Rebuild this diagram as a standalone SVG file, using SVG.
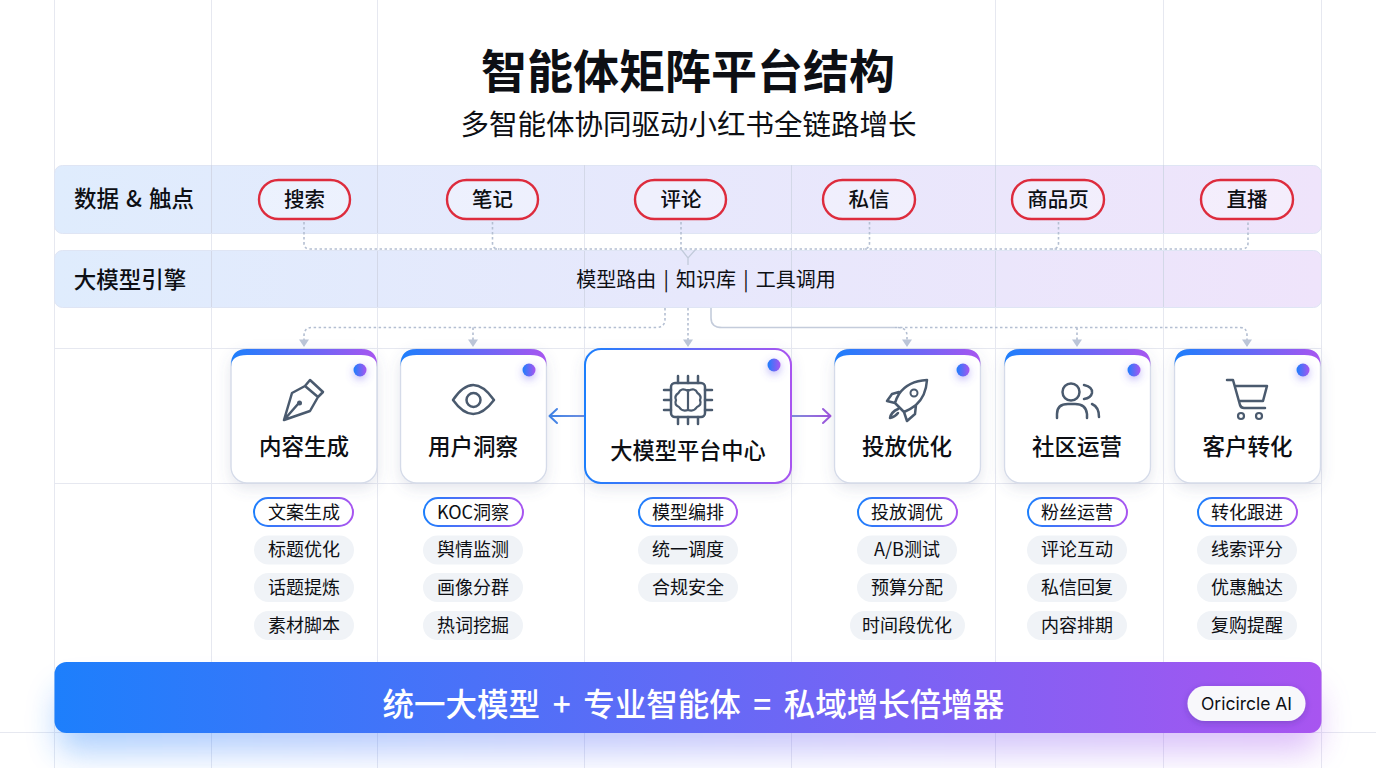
<svg xmlns="http://www.w3.org/2000/svg" width="1376" height="768" viewBox="0 0 1376 768">
<defs>
<linearGradient id="band" x1="0" x2="1" y1="0" y2="0"><stop offset="0" stop-color="#dfecfd"/><stop offset="1" stop-color="#efe4fb"/></linearGradient>
<linearGradient id="bg" gradientUnits="objectBoundingBox" x1="0" x2="1" y1="0" y2="0"><stop offset="0" stop-color="#1d7ffc"/><stop offset="1" stop-color="#a855f0"/></linearGradient>
<linearGradient id="glow" x1="0" x2="1" y1="0" y2="0"><stop offset="0" stop-color="#1d7ffc"/><stop offset="1" stop-color="#a855f0"/></linearGradient>
<linearGradient id="la" gradientUnits="userSpaceOnUse" x1="548" x2="584" y1="0" y2="0"><stop offset="0" stop-color="#3b82e8"/><stop offset="1" stop-color="#6f8fe0"/></linearGradient>
<linearGradient id="ra" gradientUnits="userSpaceOnUse" x1="791" x2="832" y1="0" y2="0"><stop offset="0" stop-color="#7f90dc"/><stop offset="1" stop-color="#a04fdc"/></linearGradient>
<filter id="sh" x="-20%" y="-20%" width="140%" height="150%"><feDropShadow dx="0" dy="5" stdDeviation="7" flood-color="#55658c" flood-opacity=".16"/></filter>
<filter id="dot" x="-150%" y="-150%" width="400%" height="400%"><feDropShadow dx="0" dy="3" stdDeviation="4" flood-color="#6a5cf0" flood-opacity=".45"/></filter>
<filter id="blur" x="-10%" y="-100%" width="120%" height="300%"><feGaussianBlur stdDeviation="16"/></filter>
<filter id="bs" x="-20%" y="-40%" width="140%" height="190%"><feDropShadow dx="0" dy="2" stdDeviation="3" flood-color="#3a2a80" flood-opacity=".3"/></filter>
<marker id="ah" markerWidth="11" markerHeight="9" refX="5.500" refY="8" orient="0" markerUnits="userSpaceOnUse" viewBox="0 0 11 9"><path d="M.5 .5H10.500L5.500 8Z" fill="#bcc6d8"/></marker>
<style>
text{font-family:"Noto Sans CJK SC","Noto Sans",sans-serif;fill:#0d0f14;text-anchor:middle}
.grid{stroke:#e6e8f0;stroke-width:1;fill:none}
.gridin{stroke:#d3d8e8;stroke-width:1;fill:none}
.band{fill:url(#band);stroke:#dfe5f4;stroke-width:1}
.lbl{font-size:22.500px;font-weight:500}
.chip{fill:#fff;stroke:#dd2c3d;stroke-width:2.400;fill-opacity:.35}
.ct{font-size:20.500px;font-weight:500}
.conn{fill:none;stroke:#b4bfd2;stroke-width:1.600;stroke-dasharray:2.500 2.500}
.card{fill:#fff;stroke:#d5dbe9;stroke-width:1.400;filter:url(#sh)}
.top{fill:url(#bg)}
.name{font-size:22.500px;font-weight:500}
.ico{fill:none;stroke:#4a5a6e;stroke-width:2.500;stroke-linecap:round;stroke-linejoin:round}
.pill{fill:#f0f3f7}
.hp{fill:#fff;stroke:url(#bg);stroke-width:2}
.pt{font-size:18px}
.dotc{fill:url(#bg);filter:url(#dot)}
</style>
</defs>
<rect width="1376" height="768" fill="#fff"/>
<g id="grid" class="grid">
<path d="M54.500 0V768M211.500 0V768M377.500 0V768M995.500 0V768M1163.500 0V768M1321.500 0V768M584.500 165V768M791.500 165V768"/>
<path d="M54 348.500H1322M54 483.500H1322M0 732.500H1376"/>
</g>
<g id="title">
<text x="688" y="88" font-size="46" font-weight="700">智能体矩阵平台结构</text>
<text x="688.500" y="134.500" font-size="28.500" font-weight="400">多智能体协同驱动小红书全链路增长</text>
</g>
<g id="band-data">
<rect class="band" x="54.500" y="165.500" width="1267" height="68" rx="8"/>
<path class="gridin" d="M211.500 165V233M377.500 165V233M584.500 165V233M791.500 165V233M995.500 165V233M1163.500 165V233"/>
<text class="lbl" x="134" y="207" style="word-spacing:2px">数据 &amp; 触点</text>
</g>
<g id="band-engine">
<rect class="band" x="54.500" y="250.500" width="1267" height="57" rx="8"/>
<path class="gridin" d="M211.500 251V307M377.500 251V307M584.500 251V307M791.500 251V307M995.500 251V307M1163.500 251V307"/>
<text class="lbl" x="130" y="288">大模型引擎</text>
<text x="706" y="287" font-size="20" font-weight="400" style="word-spacing:2.700px">模型路由 | 知识库 | 工具调用</text>
</g>
<g id="connectors">
<path class="conn" d="M304 222V243Q304 249 310 249H1242Q1248 249 1248 243V222"/>
<path class="conn" d="M492.500 222V243Q492.500 249 499 249M681 222V249M869.500 222V243Q869.500 249 863 249M1058.500 222V243Q1058.500 249 1052 249"/>
<path d="M681 249L688 258L696 249M688 258V265" fill="none" stroke="#c2cbdb" stroke-width="1.300"/>
<path class="conn" d="M665 308V319Q665 327.500 656 327.500H312Q304 327.500 304 336V347" marker-end="url(#ah)"/>
<path class="conn" d="M473 327.500V347" marker-end="url(#ah)"/>
<path class="conn" d="M688 308V347" marker-end="url(#ah)"/>
<path d="M711 308V318Q711 327.500 722 327.500H895" fill="none" stroke="#c4ccdb" stroke-width="1.600"/>
<path class="conn" d="M895 327.500H1240Q1247 327.500 1247 335V347" marker-end="url(#ah)"/>
<path class="conn" d="M898 327.500Q907 327.500 907 336V347" marker-end="url(#ah)"/>
<path class="conn" d="M1077 327.500V347" marker-end="url(#ah)"/>
<path d="M584 416H550M557 409L549.500 416L557 423" fill="none" stroke="url(#la)" stroke-width="2" stroke-linecap="round" stroke-linejoin="round"/>
<path d="M791 416H830M823 409L830.500 416L823 423" fill="none" stroke="url(#ra)" stroke-width="2" stroke-linecap="round" stroke-linejoin="round"/>
</g>
<g id="src-search"><rect class="chip" x="259" y="180" width="91" height="39" rx="19.500"/><text class="ct" x="304.500" y="207">搜索</text></g>
<g id="src-note"><rect class="chip" x="447" y="180" width="91" height="39" rx="19.500"/><text class="ct" x="492.500" y="207">笔记</text></g>
<g id="src-comment"><rect class="chip" x="635" y="180" width="91" height="39" rx="19.500"/><text class="ct" x="681" y="207">评论</text></g>
<g id="src-dm"><rect class="chip" x="823" y="180" width="92" height="39" rx="19.500"/><text class="ct" x="869" y="207">私信</text></g>
<g id="src-product"><rect class="chip" x="1012" y="180" width="92" height="39" rx="19.500"/><text class="ct" x="1058" y="207">商品页</text></g>
<g id="src-live"><rect class="chip" x="1201" y="180" width="92" height="39" rx="19.500"/><text class="ct" x="1247" y="207">直播</text></g>

<g id="card-content">
<rect class="card" x="231" y="349" width="146" height="134" rx="16"/>
<path class="top" d="M231 367V365Q231 349 247 349H361Q377 349 377 365V367Q377 355 361 355H247Q231 355 231 367Z"/>
<circle class="dotc" cx="360" cy="370" r="6.500"/>
<path class="ico" d="M310 380L323 392L318 397L305 386ZM305 386L292 393L284 420L310 411L318 397M284 420L298 404"/><circle cx="299.500" cy="403" r="2.500" fill="#4a5a6e"/>
<text class="name" x="304" y="455">内容生成</text>
</g>
<g id="card-insight">
<rect class="card" x="400.500" y="349" width="146" height="134" rx="16"/>
<path class="top" d="M400.500 367V365Q400.500 349 416.500 349H530.500Q546.500 349 546.500 365V367Q546.500 355 530.500 355H416.500Q400.500 355 400.500 367Z"/>
<circle class="dotc" cx="529" cy="370" r="6.500"/>
<path class="ico" d="M453 400Q473 370 494 400Q473 428 453 400Z"/><circle class="ico" cx="473.500" cy="400" r="7"/>
<text class="name" x="473" y="455">用户洞察</text>
</g>
<g id="card-center">
<rect x="585" y="349" width="206" height="134" rx="16" fill="#fff" stroke="url(#bg)" stroke-width="2" filter="url(#sh)"/>
<circle class="dotc" cx="774" cy="365" r="6.500"/>
<rect class="ico" x="671" y="383" width="34" height="34" rx="4"/>
<path class="ico" d="M678 383V376M688 383V376M698 383V376M678 417V424M688 417V424M698 417V424M671 390H664M671 400H664M671 410H664M705 390H712M705 400H712M705 410H712"/>
<path d="M688 389V411M688 391Q681 387 678.500 393Q674 396 676 400Q674 405 679 407Q682 412 688 410M688 391Q695 387 697.500 393Q702 396 700 400Q702 405 697 407Q694 412 688 410" fill="none" stroke="#4a5a6e" stroke-width="2.200" stroke-linejoin="round"/>
<text x="688" y="459" font-size="22.200" font-weight="500">大模型平台中心</text>
</g>
<g id="card-ads">
<rect class="card" x="834.500" y="349" width="146" height="134" rx="16"/>
<path class="top" d="M834.500 367V365Q834.500 349 850.500 349H964.500Q980.500 349 980.500 365V367Q980.500 355 964.500 355H850.500Q834.500 355 834.500 367Z"/>
<circle class="dotc" cx="963" cy="370" r="6.500"/>
<path class="ico" d="M927 380Q908 381 899 394Q896 399 895 403L904 412Q911 409 916 405Q926 396 927 380ZM899 392L892 394L887 401L895 403M916 405L915 414L907 421L904 412M898 409Q891 412 890 418Q895 417 898 413"/><circle class="ico" cx="914" cy="393" r="3.500" style="stroke-width:2"/>
<text class="name" x="907" y="455">投放优化</text>
</g>
<g id="card-community">
<rect class="card" x="1004.500" y="349" width="146" height="134" rx="16"/>
<path class="top" d="M1004.500 367V365Q1004.500 349 1020.500 349H1134.500Q1150.500 349 1150.500 365V367Q1150.500 355 1134.500 355H1020.500Q1004.500 355 1004.500 367Z"/>
<circle class="dotc" cx="1134" cy="370" r="6.500"/>
<circle class="ico" cx="1071" cy="392" r="8.500"/><path class="ico" d="M1057 418V414Q1057 404 1068 404H1075Q1086 404 1087 414V418M1084 385Q1093 387 1092 393Q1091 398 1084 399M1092 404Q1099 407 1099 417"/>
<text class="name" x="1077" y="455">社区运营</text>
</g>
<g id="card-convert">
<rect class="card" x="1174.500" y="349" width="146" height="134" rx="16"/>
<path class="top" d="M1174.500 367V365Q1174.500 349 1190.500 349H1304.500Q1320.500 349 1320.500 365V367Q1320.500 355 1304.500 355H1190.500Q1174.500 355 1174.500 367Z"/>
<circle class="dotc" cx="1303" cy="370" r="6.500"/>
<path class="ico" d="M1227 380H1233L1240 405Q1241 408 1244 408H1265M1235 386H1267L1263 401H1239"/><circle class="ico" cx="1241" cy="416" r="3" style="stroke-width:2.200"/><circle class="ico" cx="1259" cy="416" r="3" style="stroke-width:2.200"/>
<text class="name" x="1247.500" y="455">客户转化</text>
</g>

<g id="tags-content">
<rect class="hp" x="254" y="498" width="99" height="28" rx="14"/><text class="pt" x="304" y="518.500">文案生成</text>
<rect class="pill" x="254" y="535.500" width="100" height="29" rx="14.500"/><text class="pt" x="304" y="556">标题优化</text>
<rect class="pill" x="254" y="573" width="100" height="29" rx="14.500"/><text class="pt" x="304" y="594">话题提炼</text>
<rect class="pill" x="254" y="611" width="100" height="29" rx="14.500"/><text class="pt" x="304" y="631.500">素材脚本</text>
</g>
<g id="tags-insight">
<rect class="hp" x="424" y="498" width="99" height="28" rx="14"/><text class="pt" x="473" y="518.500">KOC洞察</text>
<rect class="pill" x="423" y="535.500" width="100" height="29" rx="14.500"/><text class="pt" x="473" y="556">舆情监测</text>
<rect class="pill" x="423" y="573" width="100" height="29" rx="14.500"/><text class="pt" x="473" y="594">画像分群</text>
<rect class="pill" x="423" y="611" width="100" height="29" rx="14.500"/><text class="pt" x="473" y="631.500">热词挖掘</text>
</g>
<g id="tags-center">
<rect class="hp" x="639" y="498" width="98" height="28" rx="14"/><text class="pt" x="688" y="518.500">模型编排</text>
<rect class="pill" x="638" y="535.500" width="100" height="29" rx="14.500"/><text class="pt" x="688" y="556">统一调度</text>
<rect class="pill" x="638" y="573" width="100" height="29" rx="14.500"/><text class="pt" x="688" y="594">合规安全</text>
</g>
<g id="tags-ads">
<rect class="hp" x="858" y="498" width="99" height="28" rx="14"/><text class="pt" x="907" y="518.500">投放调优</text>
<rect class="pill" x="857" y="535.500" width="100" height="29" rx="14.500"/><text class="pt" x="907" y="556">A/B测试</text>
<rect class="pill" x="857" y="573" width="100" height="29" rx="14.500"/><text class="pt" x="907" y="594">预算分配</text>
<rect class="pill" x="850" y="611" width="115" height="29" rx="14.500"/><text class="pt" x="907" y="631.500">时间段优化</text>
</g>
<g id="tags-community">
<rect class="hp" x="1028" y="498" width="99" height="28" rx="14"/><text class="pt" x="1077" y="518.500">粉丝运营</text>
<rect class="pill" x="1027" y="535.500" width="100" height="29" rx="14.500"/><text class="pt" x="1077" y="556">评论互动</text>
<rect class="pill" x="1027" y="573" width="100" height="29" rx="14.500"/><text class="pt" x="1077" y="594">私信回复</text>
<rect class="pill" x="1027" y="611" width="100" height="29" rx="14.500"/><text class="pt" x="1077" y="631.500">内容排期</text>
</g>
<g id="tags-convert">
<rect class="hp" x="1198" y="498" width="99" height="28" rx="14"/><text class="pt" x="1247" y="518.500">转化跟进</text>
<rect class="pill" x="1197" y="535.500" width="100" height="29" rx="14.500"/><text class="pt" x="1247" y="556">线索评分</text>
<rect class="pill" x="1197" y="573" width="100" height="29" rx="14.500"/><text class="pt" x="1247" y="594">优惠触达</text>
<rect class="pill" x="1197" y="611" width="100" height="29" rx="14.500"/><text class="pt" x="1247" y="631.500">复购提醒</text>
</g>
<g id="footer">
<rect x="58" y="690" width="1260" height="62" rx="14" fill="url(#glow)" opacity=".36" filter="url(#blur)"/>
<rect x="54.500" y="662" width="1267" height="71" rx="12" fill="url(#bg)"/>
<text x="693.500" y="716" font-size="31.500" font-weight="500" style="fill:#fff;word-spacing:5.500px">统一大模型 + 专业智能体 = 私域增长倍增器</text>
<rect x="1187.500" y="686" width="118" height="35" rx="17.500" fill="#f8f8fb" filter="url(#bs)"/>
<text x="1246.500" y="709.500" font-size="17.500" style="font-family:Inter,'Noto Sans',sans-serif">Oricircle AI</text>
</g>
</svg>
